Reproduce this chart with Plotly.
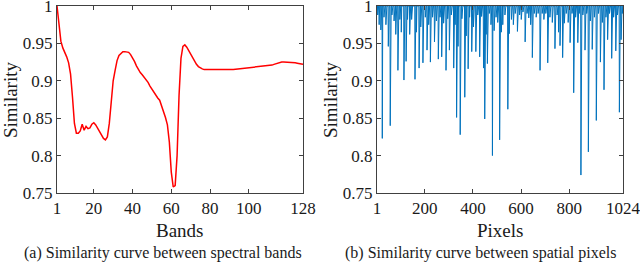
import plotly.graph_objects as go

# ---- Data: (a) similarity between spectral bands (128 bands) ----
bands = list(range(1, 129))
band_similarity = [
    1.000, 0.972, 0.953, 0.944, 0.939, 0.932, 0.924, 0.909, 0.878, 0.843,
    0.830, 0.830, 0.833, 0.842, 0.834, 0.839, 0.836, 0.837, 0.842, 0.844,
    0.841, 0.836, 0.833, 0.828, 0.823, 0.821, 0.825, 0.843, 0.872, 0.900,
    0.914, 0.927, 0.934, 0.937, 0.939, 0.939, 0.939, 0.938, 0.935, 0.931,
    0.926, 0.920, 0.915, 0.911, 0.908, 0.905, 0.902, 0.898, 0.893, 0.889,
    0.884, 0.880, 0.877, 0.874, 0.867, 0.860, 0.851, 0.841, 0.818, 0.778,
    0.758, 0.760, 0.800, 0.880, 0.930, 0.946, 0.948, 0.945, 0.940, 0.935,
    0.930, 0.926, 0.922, 0.919, 0.917, 0.916, 0.915, 0.915, 0.914, 0.914,
    0.914, 0.914, 0.914, 0.914, 0.914, 0.914, 0.9145, 0.9145, 0.9148, 0.915,
    0.915, 0.9152, 0.9155, 0.9158, 0.916, 0.9162, 0.9165, 0.9168, 0.917, 0.917,
    0.9172, 0.9175, 0.9178, 0.918, 0.9182, 0.9185, 0.9188, 0.919, 0.9195, 0.920,
    0.9205, 0.921, 0.922, 0.923, 0.924, 0.9245, 0.925, 0.925, 0.925, 0.925,
    0.925, 0.9248, 0.9245, 0.924, 0.9235, 0.923, 0.9225, 0.922,
]

# ---- Data: (b) similarity between spatial pixels (1024 pixels) ----
n_pixels = 1024
spike_pixels = [
    4, 10, 17, 23, 30, 38, 48, 56, 63, 72, 79, 88, 96, 102, 113, 122, 128, 137,
    145, 159, 165, 176, 183, 192, 202, 209, 216, 223, 232, 240, 248, 256, 263,
    270, 278, 288, 295, 302, 310, 320, 326, 332, 338, 347, 354, 366, 372, 380,
    386, 395, 402, 412, 420, 428, 436, 444, 449, 455, 460, 468, 475, 481, 488,
    496, 503, 511, 518, 524, 533, 545, 551, 560, 568, 576, 585, 594, 601, 608,
    617, 625, 632, 640, 647, 655, 663, 671, 679, 688, 695, 703, 711, 720, 730,
    741, 750, 756, 762, 773, 780, 788, 796, 804, 812, 819, 827, 836, 842, 849,
    857, 866, 873, 880, 888, 896, 905, 913, 922, 930, 938, 945, 953, 960, 968,
    977, 985, 994, 1001, 1009, 1016, 1021,
]
spike_values = [
    0.988, 0.975, 0.968, 0.823, 0.985, 0.975, 0.946, 0.840, 0.988, 0.980, 0.962,
    0.914, 0.982, 0.965, 0.901, 0.926, 0.982, 0.962, 0.982, 0.902, 0.965, 0.917,
    0.972, 0.924, 0.985, 0.941, 0.975, 0.925, 0.985, 0.952, 0.980, 0.929, 0.985,
    0.932, 0.977, 0.914, 0.983, 0.941, 0.988, 0.917, 0.975, 0.851, 0.946, 0.828,
    0.983, 0.878, 0.960, 0.916, 0.985, 0.939, 0.972, 0.939, 0.988, 0.932, 0.986,
    0.917, 0.849, 0.962, 0.923, 0.990, 0.975, 0.800, 0.967, 0.985, 0.978, 0.821,
    0.965, 0.975, 0.988, 0.862, 0.963, 0.982, 0.975, 0.990, 0.966, 0.988, 0.982,
    0.992, 0.952, 0.990, 0.984, 0.975, 0.931, 0.990, 0.985, 0.990, 0.914, 0.990,
    0.982, 0.990, 0.924, 0.985, 0.978, 0.943, 0.988, 0.965, 0.947, 0.931, 0.977,
    0.990, 0.978, 0.951, 0.990, 0.884, 0.985, 0.951, 0.990, 0.774, 0.988, 0.941,
    0.990, 0.805, 0.980, 0.942, 0.985, 0.847, 0.990, 0.925, 0.978, 0.888, 0.985,
    0.955, 0.990, 0.930, 0.985, 0.940, 0.988, 0.858, 0.955, 0.990,
]
baseline_value = 1.0

pixels = list(range(1, n_pixels + 1))
pixel_similarity = [baseline_value] * n_pixels
for p, v in zip(spike_pixels, spike_values):
    pixel_similarity[p - 1] = v

y_ticks = [0.75, 0.8, 0.85, 0.9, 0.95, 1.0]
y_tick_labels = ["0.75", "0.8", "0.85", "0.9", "0.95", "1"]
band_ticks = [1, 20, 40, 60, 80, 100, 128]
pixel_ticks = [1, 200, 400, 600, 800, 1024]

# ---- Layout geometry ----
W, H = 640, 266
FONT = "Liberation Serif, Times New Roman, serif"
x1_dom = [57 / W, 303 / W]
x2_dom = [377 / W, 623 / W]
y_dom = [1 - 193 / H, 1 - 6 / H]

fig = go.Figure()
fig.add_trace(go.Scatter(x=bands, y=band_similarity, mode="lines",
                         line=dict(color="#FF0000", width=1.5),
                         xaxis="x", yaxis="y", showlegend=False))
fig.add_trace(go.Scatter(x=pixels, y=pixel_similarity, mode="lines",
                         line=dict(color="#0072BD", width=1),
                         xaxis="x2", yaxis="y2", showlegend=False))

axis_common = dict(showgrid=False, zeroline=False, showline=True,
                   linecolor="#404040", linewidth=1, mirror="ticks",
                   ticks="inside", ticklen=4, tickcolor="#404040",
                   ticklabeloverflow="allow", automargin=False,
                   tickfont=dict(family=FONT, size=17, color="#1a1a1a"))

fig.update_layout(
    width=W, height=H,
    margin=dict(l=0, r=0, t=0, b=0, autoexpand=False),
    paper_bgcolor="white", plot_bgcolor="white",
    font=dict(family=FONT),
    xaxis=dict(domain=x1_dom, range=[1, 128], tickvals=band_ticks,
               anchor="y", **axis_common),
    yaxis=dict(domain=y_dom, range=[0.75, 1.0], tickvals=y_ticks,
               ticktext=y_tick_labels, anchor="x", **axis_common),
    xaxis2=dict(domain=x2_dom, range=[1, 1024], tickvals=pixel_ticks,
                anchor="y2", **axis_common),
    yaxis2=dict(domain=y_dom, range=[0.75, 1.0], tickvals=y_ticks,
                ticktext=y_tick_labels, anchor="x2", **axis_common),
)

ann_font = dict(family=FONT, size=19, color="#1a1a1a")
cap_font = dict(family=FONT, size=16, color="#1a1a1a")
annotations = [
    dict(text="Bands", x=(x1_dom[0] + x1_dom[1]) / 2, y=1 - 230 / H, font=ann_font),
    dict(text="Pixels", x=(x2_dom[0] + x2_dom[1]) / 2, y=1 - 230 / H, font=ann_font),
    dict(text="Similarity", x=10 / W, y=1 - 100 / H, textangle=-90, font=ann_font),
    dict(text="Similarity", x=330 / W, y=1 - 100 / H, textangle=-90, font=ann_font),
    dict(text="(a) Similarity curve between spectral bands", x=163 / W,
         y=1 - 253 / H, font=cap_font),
    dict(text="(b) Similarity curve between spatial pixels", x=480 / W,
         y=1 - 253 / H, font=cap_font),
]
for a in annotations:
    a.update(xref="paper", yref="paper", showarrow=False,
             xanchor="center", yanchor="middle")
fig.update_layout(annotations=annotations)

fig.write_html(
    "out.html",
    config={"displayModeBar": False},
    post_script="document.body.style.margin='0';document.body.style.overflow='hidden';",
)
